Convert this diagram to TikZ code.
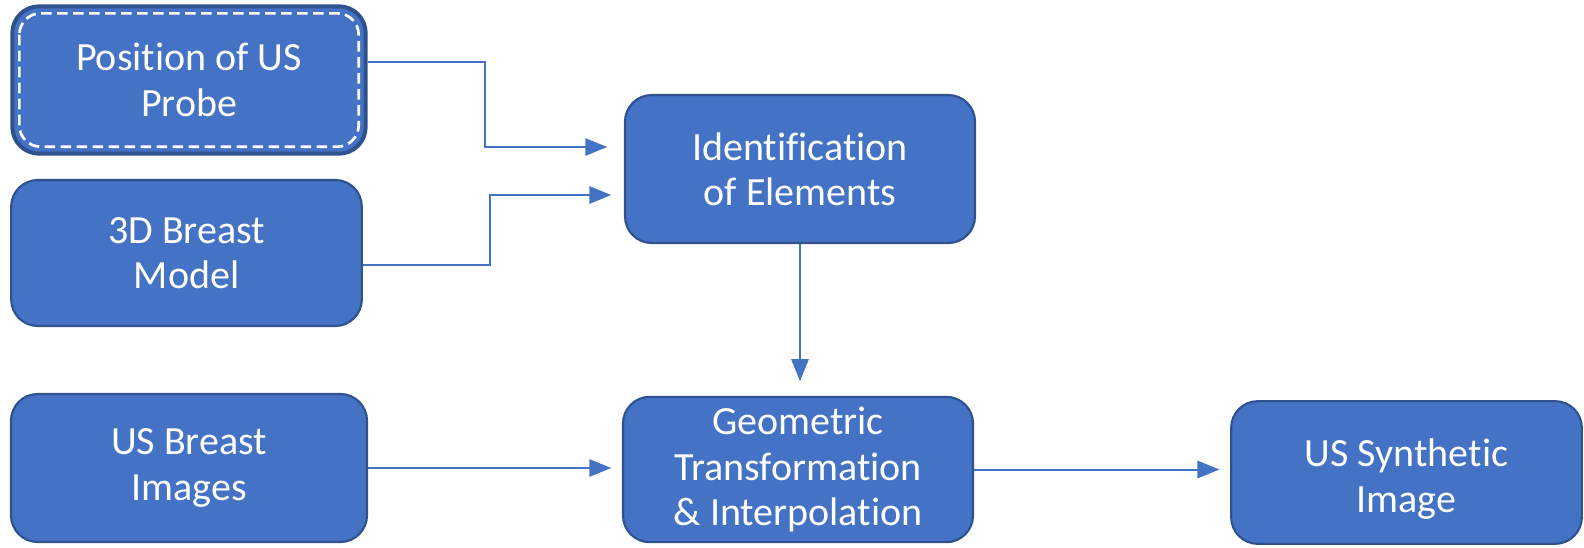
\documentclass[tikz,border=0pt]{standalone}
\usepackage{fontspec}
\setmainfont[Ligatures=NoCommon]{Carlito}
\usetikzlibrary{arrows.meta}
\definecolor{boxfill}{HTML}{4472C4}
\definecolor{boxline}{HTML}{2F528F}
\begin{document}
\begin{tikzpicture}[x=0.75pt,y=-0.75pt,
  box/.style={draw=boxline, line width=1.6pt, fill=boxfill, rounded corners=20pt,
    text=white, align=center, font=\fontsize{30}{34}\selectfont, inner sep=0pt},
  arr/.style={draw=boxfill, line width=1.5pt, -{Triangle[length=16.5pt,width=13pt]}}]
\useasboundingbox (0,0) rectangle (1584,547);
\node[box, line width=3pt, minimum width=265pt, minimum height=110.5pt] (pos) at (189,80) {Position of US\\Probe};
\draw[white, line width=2pt, dash pattern=on 8pt off 4pt, rounded corners=16pt]
  ([shift={(9,9)}]pos.north west) rectangle ([shift={(-9,-9)}]pos.south east);
\node[box, minimum width=263pt, minimum height=109.5pt] (pm) at (186.5,253) {3D Breast\\Model};
\node[box, minimum width=267pt, minimum height=111pt] (us) at (189,468) {US Breast\\Images};
\node[box, minimum width=262.5pt, minimum height=111pt] (ident) at (800,169) {Identification\\of Elements};
\node[box, minimum width=262.5pt, minimum height=109pt] (geom) at (798,469.5) {Geometric\\Transformation\\\&~Interpolation};
\node[box, minimum width=263pt, minimum height=107pt] (syn) at (1406.5,472.5) {\raisebox{-6pt}[\height][\depth]{\begin{tabular}{@{}c@{}}US Synthetic\\Image\end{tabular}}};
\coordinate (a1) at (485,62);
\coordinate (t1) at (0,147);
\coordinate (a2) at (490,265);
\coordinate (t2) at (0,195);
\draw[arr, shorten >=12.5pt] (pos.east |- a1) -- (a1) |- (ident.west |- t1);
\draw[arr, shorten >=9.5pt] (pm.east |- a2) -- (a2) |- (ident.west |- t2);
\draw[arr, shorten >=11pt] (ident.south) -- (ident.south |- geom.north);
\draw[arr, shorten >=8pt] (us.east) -- (geom.west |- us.east);
\draw[arr, shorten >=8pt] (geom.east) -- (syn.west |- geom.east);
\end{tikzpicture}
\end{document}
